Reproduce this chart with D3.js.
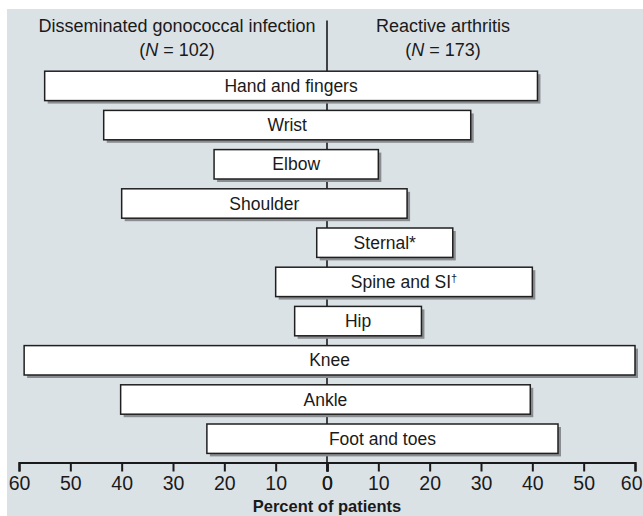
<!DOCTYPE html>
<html>
<head>
<meta charset="utf-8">
<script src="https://cdn.jsdelivr.net/npm/d3@7"></script>
<style>
  html, body { margin: 0; padding: 0; background: #ffffff; }
  svg { display: block; }
  text { font-family: "Liberation Sans", Arial, Helvetica, sans-serif; fill: #1a1a1a; }
</style>
</head>
<body>
<svg id="chart" width="643" height="516"></svg>
<script>
// Joint sites involved, percent of patients in each group
const sites = ["Hand and fingers", "Wrist", "Elbow", "Shoulder", "Sternal", "Spine and SI", "Hip", "Knee", "Ankle", "Foot and toes"];
const siteMarks = ["", "", "", "", "*", "\u2020", "", "", "", ""];
const dgiPercent = [55, 43.5, 22, 40, 2, 10, 6.3, 59, 40.2, 23.4];      // Disseminated gonococcal infection
const reaPercent = [41, 28, 10, 15.6, 24.5, 40, 18.4, 60, 39.6, 45];     // Reactive arthritis
const tickValues = [0, 10, 20, 30, 40, 50, 60];

const svg = d3.select("#chart");
const W = 643, H = 516;
const cx = 327;

// panel background
svg.append("rect").attr("x", 7).attr("y", 9).attr("width", W - 7).attr("height", H - 9)
  .attr("fill", "#dbe2e6");

const xLeft = d3.scaleLinear().domain([0, 60]).range([cx, 19]);
const xRight = d3.scaleLinear().domain([0, 60]).range([cx, 635]);
const y = d3.scaleBand().domain(sites).range([66.3, 458.3]).paddingInner(0.25).paddingOuter(0.125);
const axisY = 462.5;

// central divider
svg.append("line").attr("x1", cx).attr("x2", cx).attr("y1", 20.5).attr("y2", axisY)
  .attr("stroke", "#1a1a1a").attr("stroke-width", 1.6);

// group headings
const head = svg.append("g").attr("font-size", 18).attr("text-anchor", "middle");
head.append("text").attr("x", 177).attr("y", 32).text("Disseminated gonococcal infection");
const n1 = head.append("text").attr("x", 177).attr("y", 55.5);
n1.append("tspan").text("(");
n1.append("tspan").attr("font-style", "italic").text("N");
n1.append("tspan").text(" = 102)");
head.append("text").attr("x", 443).attr("y", 32).text("Reactive arthritis");
const n2 = head.append("text").attr("x", 443).attr("y", 55.5);
n2.append("tspan").text("(");
n2.append("tspan").attr("font-style", "italic").text("N");
n2.append("tspan").text(" = 173)");

const rows = sites.map((s, i) => ({ site: s, mark: siteMarks[i], left: dgiPercent[i], right: reaPercent[i] }));

const bars = svg.append("g").selectAll("g").data(rows).join("g");

// drop shadow
bars.append("rect")
  .attr("x", d => xLeft(d.left) + 3)
  .attr("y", d => y(d.site) + 3)
  .attr("width", d => xRight(d.right) - xLeft(d.left))
  .attr("height", y.bandwidth())
  .attr("fill", "#8a8d90");

bars.append("rect")
  .attr("x", d => xLeft(d.left))
  .attr("y", d => y(d.site))
  .attr("width", d => xRight(d.right) - xLeft(d.left))
  .attr("height", y.bandwidth())
  .attr("fill", "#ffffff")
  .attr("stroke", "#1f1f1f")
  .attr("stroke-width", 1.5);

const lab = bars.append("text")
  .attr("x", d => (xLeft(d.left) + xRight(d.right)) / 2)
  .attr("y", d => y(d.site) + y.bandwidth() / 2 + 6)
  .attr("text-anchor", "middle")
  .attr("font-size", 17.5);
lab.append("tspan").text(d => d.site);
lab.filter(d => d.mark === "*").append("tspan").text("*");
lab.filter(d => d.mark === "\u2020").append("tspan")
  .attr("font-size", 11).attr("dy", -6).text(d => d.mark);

// percent axes, mirrored on both sides of zero
function styleAxis(g) {
  g.select(".domain").attr("stroke", "#1a1a1a").attr("stroke-width", 2.2);
  g.selectAll(".tick line").attr("stroke", "#1a1a1a").attr("stroke-width", 2);
  g.selectAll(".tick text").attr("font-size", 19.5).attr("fill", "#1a1a1a")
    .attr("font-family", "Liberation Sans, Arial, sans-serif");
}
svg.append("g").attr("transform", `translate(0,${axisY})`)
  .call(d3.axisBottom(xLeft).tickValues(tickValues).tickSize(9).tickPadding(5).tickFormat(d3.format("d")))
  .call(styleAxis);
svg.append("g").attr("transform", `translate(0,${axisY})`)
  .call(d3.axisBottom(xRight).tickValues(tickValues).tickSize(9).tickPadding(5).tickFormat(d3.format("d")))
  .call(styleAxis)
  // keep the outermost label inside the panel edge
  .selectAll(".tick text").filter(d => d === 60).attr("text-anchor", "end").attr("dx", 7);

svg.append("text").attr("x", cx).attr("y", 512).attr("text-anchor", "middle")
  .attr("font-size", 16.5).attr("font-weight", "bold").text("Percent of patients");
</script>
</body>
</html>
